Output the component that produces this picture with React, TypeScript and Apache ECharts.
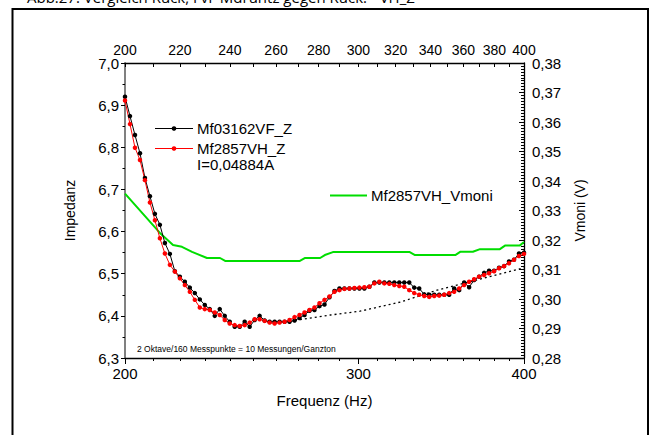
import React, { useEffect, useRef } from "react";
import * as echarts from "echarts";

// measurement frequencies (Hz), 80 points per octave
const freqs = [
  200.0, 201.74, 203.5, 205.27, 207.05, 208.85, 210.67, 212.5, 214.35, 216.22,
  218.1, 220.0, 221.91, 223.84, 225.79, 227.75, 229.73, 231.73, 233.75, 235.78,
  237.84, 239.9, 241.99, 244.1, 246.22, 248.36, 250.52, 252.7, 254.9, 257.12,
  259.36, 261.61, 263.89, 266.18, 268.5, 270.83, 273.19, 275.56, 277.96, 280.38,
  282.84, 285.3, 287.78, 290.28, 292.81, 295.36, 297.93, 300.52, 303.13, 305.77,
  308.43, 311.11, 313.82, 316.55, 319.3, 322.08, 324.88, 327.71, 330.56, 333.43,
  336.36, 339.29, 342.24, 345.21, 348.22, 351.25, 354.3, 357.39, 360.5, 363.63,
  366.8, 369.99, 373.21, 376.45, 379.73, 383.03, 386.36, 389.72, 393.11, 396.53,
  400.0,
];

// Mf03162VF_Z impedance
const impVF = [
  6.92, 6.874, 6.829, 6.786, 6.727, 6.684, 6.642, 6.616, 6.573, 6.547,
  6.506, 6.493, 6.481, 6.467, 6.454, 6.439, 6.426, 6.416, 6.4, 6.416,
  6.4, 6.386, 6.374, 6.374, 6.386, 6.374, 6.39, 6.4, 6.389, 6.386,
  6.386, 6.386, 6.386, 6.386, 6.389, 6.395, 6.402, 6.412, 6.414, 6.423,
  6.427, 6.444, 6.459, 6.465, 6.465, 6.465, 6.465, 6.465, 6.465, 6.469,
  6.479, 6.479, 6.479, 6.479, 6.479, 6.479, 6.479, 6.479, 6.467, 6.465,
  6.451, 6.45, 6.45, 6.45, 6.45, 6.45, 6.465, 6.461, 6.479, 6.468,
  6.485, 6.493, 6.502, 6.507, 6.507, 6.514, 6.518, 6.529, 6.533, 6.548,
  6.55,
];

// Mf2857VH_Z impedance
const impVH = [
  6.911, 6.855, 6.799, 6.77, 6.722, 6.669, 6.627, 6.584, 6.548, 6.521,
  6.505, 6.489, 6.473, 6.457, 6.438, 6.42, 6.416, 6.414, 6.408, 6.402,
  6.39, 6.382, 6.378, 6.376, 6.378, 6.384, 6.392, 6.392, 6.388, 6.384,
  6.382, 6.384, 6.386, 6.39, 6.397, 6.402, 6.408, 6.414, 6.42, 6.43,
  6.438, 6.446, 6.457, 6.461, 6.464, 6.465, 6.466, 6.467, 6.468, 6.469,
  6.477, 6.481, 6.477, 6.476, 6.473, 6.471, 6.469, 6.461, 6.454, 6.45,
  6.447, 6.445, 6.447, 6.448, 6.45, 6.454, 6.457, 6.465, 6.473, 6.481,
  6.487, 6.493, 6.497, 6.501, 6.506, 6.513, 6.518, 6.525, 6.533, 6.542,
  6.547,
];

// Mf2857VH_Vmoni (V)
const vmoniFreq = [200, 212.5, 217.4, 220.8, 224.7, 230.6, 235.9, 238, 271, 273.5, 280.7, 283, 287, 328, 331, 355, 358, 366, 370.6, 383.6, 387, 397, 400];
const vmoniVals = [0.3357, 0.3224, 0.3183, 0.3177, 0.316, 0.3139, 0.3139, 0.3129, 0.3129, 0.3139, 0.3139, 0.3149, 0.3159, 0.3159, 0.3149, 0.3149, 0.316, 0.316, 0.3169, 0.3169, 0.3181, 0.3181, 0.3193];

// dotted reference line
const trendFreq = [268.7, 285.8, 300.8, 322.9, 343.9, 400];
const trendVals = [6.389, 6.402, 6.411, 6.433, 6.461, 6.514];

const bottomLabels = [200, 300, 400];
const tenHzTicks = [200, 210, 220, 230, 240, 250, 260, 270, 280, 290, 300, 310, 320, 330, 340, 350, 360, 370, 380, 390, 400];
const topLabels = [200, 220, 240, 260, 280, 300, 320, 340, 360, 380, 400];

const FONT = "Liberation Sans, Arial, sans-serif";

export default function App() {
  const ref = useRef<HTMLDivElement>(null);
  useEffect(() => {
    const chart = echarts.init(ref.current!, null, { renderer: "svg" });
    const logX = {
      type: "log" as const,
      logBase: 10,
      min: 200,
      max: 400,
      splitLine: { show: false },
      minorSplitLine: { show: false },
    };
    chart.setOption({
      animation: false,
      backgroundColor: "#fff",
      grid: { left: 125, right: 129, top: 63, bottom: 77, containLabel: false },
      xAxis: [
        {
          ...logX,
          position: "bottom",
          name: "Frequenz (Hz)",
          nameLocation: "middle",
          nameGap: 35,
          nameTextStyle: { fontFamily: FONT, fontSize: 15, color: "#000" },
          axisLine: { show: true, onZero: false, lineStyle: { color: "#000", width: 1.3 } },
          axisTick: { show: true, inside: false, length: 6, customValues: bottomLabels, lineStyle: { color: "#000" } },
          axisLabel: { show: true, customValues: bottomLabels, margin: 8, fontFamily: FONT, fontSize: 15, color: "#000", formatter: (v: number) => String(Math.round(v)) },
        },
        {
          ...logX,
          position: "bottom",
          axisLine: { show: false, onZero: false },
          axisTick: { show: true, inside: false, length: 3, customValues: tenHzTicks, lineStyle: { color: "#000" } },
          axisLabel: { show: false },
        },
        {
          ...logX,
          position: "top",
          axisLine: { show: true, onZero: false, lineStyle: { color: "#000", width: 1.3 } },
          axisTick: { show: true, inside: true, length: 4, customValues: tenHzTicks, lineStyle: { color: "#000" } },
          axisLabel: { show: true, customValues: topLabels, margin: 6, fontFamily: FONT, fontSize: 14, color: "#000", formatter: (v: number) => String(Math.round(v)) },
        },
      ],
      yAxis: [
        {
          type: "value",
          position: "left",
          min: 6.3,
          max: 7.0,
          interval: 0.1,
          name: "Impedanz",
          nameLocation: "middle",
          nameGap: 48,
          nameRotate: 90,
          nameTextStyle: { fontFamily: FONT, fontSize: 14, color: "#000" },
          splitLine: { show: false },
          axisLine: { show: true, onZero: false, lineStyle: { color: "#808080", width: 2 } },
          axisTick: { show: true, inside: false, length: 4, lineStyle: { color: "#000" } },
          minorTick: { show: true, splitNumber: 2, length: 2.5, lineStyle: { color: "#000" } },
          axisLabel: { margin: 6, fontFamily: FONT, fontSize: 15, color: "#000", formatter: (v: number) => v.toFixed(1).replace(".", ",") },
        },
        {
          type: "value",
          position: "right",
          min: 0.28,
          max: 0.38,
          interval: 0.01,
          name: "Vmoni (V)",
          nameLocation: "middle",
          nameGap: 49,
          nameRotate: 90,
          nameTextStyle: { fontFamily: FONT, fontSize: 14, color: "#000" },
          splitLine: { show: false },
          axisLine: { show: true, onZero: false, lineStyle: { color: "#000", width: 1.3 } },
          axisTick: { show: true, inside: true, length: 5, lineStyle: { color: "#000" } },
          minorTick: { show: true, splitNumber: 10, length: 3, lineStyle: { color: "#000" } },
          axisLabel: { margin: 8, fontFamily: FONT, fontSize: 15, color: "#000", formatter: (v: number) => v.toFixed(2).replace(".", ",") },
        },
      ],
      series: [
        {
          name: "Mf2857VH_Vmoni",
          type: "line",
          xAxisIndex: 0,
          yAxisIndex: 1,
          data: vmoniFreq.map((f, i) => [f, vmoniVals[i]]),
          showSymbol: false,
          lineStyle: { color: "#00dd00", width: 2 },
          itemStyle: { color: "#00dd00" },
        },
        {
          name: "trend",
          type: "line",
          xAxisIndex: 0,
          yAxisIndex: 0,
          data: trendFreq.map((f, i) => [f, trendVals[i]]),
          showSymbol: false,
          lineStyle: { color: "#000", width: 1.3, type: [2, 3] },
        },
        {
          name: "Mf03162VF_Z",
          type: "line",
          xAxisIndex: 0,
          yAxisIndex: 0,
          data: freqs.map((f, i) => [f, impVF[i]]),
          symbol: "circle",
          symbolSize: 4.5,
          lineStyle: { color: "#000", width: 1 },
          itemStyle: { color: "#000" },
        },
        {
          name: "Mf2857VH_Z",
          type: "line",
          xAxisIndex: 0,
          yAxisIndex: 0,
          data: freqs.map((f, i) => [f, impVH[i]]),
          symbol: "circle",
          symbolSize: 4.5,
          lineStyle: { color: "#ff0000", width: 1 },
          itemStyle: { color: "#ff0000" },
        },
      ],
      graphic: [
        // frame
        { type: "line", shape: { x1: 12, y1: 9, x2: 648, y2: 9 }, style: { stroke: "#000", lineWidth: 2 } },
        { type: "line", shape: { x1: 12.5, y1: 8, x2: 12.5, y2: 435 }, style: { stroke: "#000", lineWidth: 2 } },
        { type: "line", shape: { x1: 648, y1: 8, x2: 648, y2: 435 }, style: { stroke: "#000", lineWidth: 2 } },
        {
          type: "text",
          left: 27,
          top: -11,
          style: { text: "Abb.27: Vergleich Rück, FvF Mdruntz gegen Rück. - VH_Z", fontFamily: "Open Sans, sans-serif", fontSize: 15, fill: "#000" },
        },
        // legend: black
        { type: "line", shape: { x1: 155, y1: 128.5, x2: 193, y2: 128.5 }, style: { stroke: "#000", lineWidth: 1 } },
        { type: "circle", shape: { cx: 174, cy: 128.5, r: 2.3 }, style: { fill: "#000" } },
        { type: "text", x: 197, y: 128.5, style: { text: "Mf03162VF_Z", fontFamily: FONT, fontSize: 15, fill: "#000", verticalAlign: "middle" } },
        // legend: red
        { type: "line", shape: { x1: 155, y1: 148.5, x2: 193, y2: 148.5 }, style: { stroke: "#ff0000", lineWidth: 1 } },
        { type: "circle", shape: { cx: 174, cy: 148.5, r: 2.3 }, style: { fill: "#ff0000" } },
        { type: "text", x: 197, y: 148.5, style: { text: "Mf2857VH_Z", fontFamily: FONT, fontSize: 15, fill: "#000", verticalAlign: "middle" } },
        { type: "text", x: 197, y: 164.5, style: { text: "I=0,04884A", fontFamily: FONT, fontSize: 15, fill: "#000", verticalAlign: "middle" } },
        // legend: green
        { type: "line", shape: { x1: 330, y1: 195.5, x2: 367, y2: 195.5 }, style: { stroke: "#00dd00", lineWidth: 2 } },
        { type: "text", x: 371, y: 195.5, style: { text: "Mf2857VH_Vmoni", fontFamily: FONT, fontSize: 15, fill: "#000", verticalAlign: "middle" } },
        // note
        { type: "text", x: 137, y: 348.5, style: { text: "2 Oktave/160 Messpunkte = 10 Messungen/Ganzton", fontFamily: FONT, fontSize: 8.5, fill: "#000", verticalAlign: "middle" } },
      ],
    });
    return () => chart.dispose();
  }, []);
  return (
    <div
      ref={ref}
      style={{ position: "absolute", left: 0, top: 0, width: 653, height: 435, background: "#fff" }}
    />
  );
}
